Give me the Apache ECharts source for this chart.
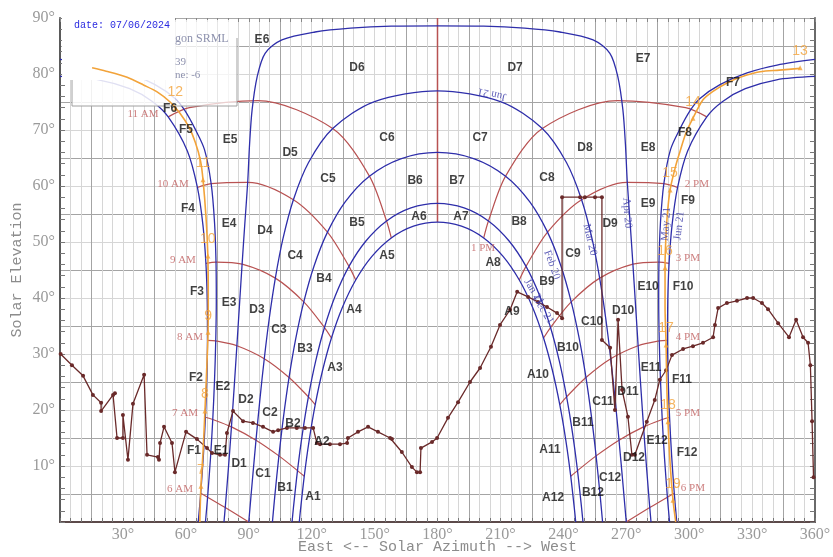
<!DOCTYPE html>
<html><head><meta charset="utf-8">
<script src="https://cdn.jsdelivr.net/npm/echarts/dist/echarts.min.js"></script>
<style>html,body{margin:0;padding:0;background:#fff}#c{width:833px;height:557px}</style>
</head><body><div id="c"></div>
<script>
// ---- sun path (date) curves [azimuth, elevation] ----
const JUN21_AM = [[65.9,0],[67.1,5.13],[68.37,11.9],[69.34,18.71],[70.0,25.57],[70.31,32.44],[70.21,39.32],[69.57,46.19],[68.16,53.01],[65.52,59.74],[60.72,66.26],[51.6,72.34],[44.03,75.1],[33.23,77.37],[18.31,78.97],[0,79.56]];
const JUN21_PM = [[360,79.56],[341.69,78.97],[326.77,77.37],[315.97,75.1],[308.4,72.34],[299.28,66.26],[294.48,59.74],[291.84,53.01],[290.43,46.19],[289.79,39.32],[289.69,32.44],[290.0,25.57],[290.66,18.71],[291.63,11.9],[292.9,5.13],[294.1,0]];
const MAY21_AM = [[69.35,0],[70.38,4.43],[71.74,11.35],[72.84,18.31],[73.68,25.31],[74.26,32.33],[74.53,39.37],[74.39,46.42],[73.69,53.45],[72.07,60.42],[68.9,66.5],[64.4,70.2],[59.5,73.5],[55,75.6],[45.3,78.1],[32.4,80.2],[18.1,81.6],[0,82.6]];
const MAY21_PM = [[360,82.6],[341.9,81.6],[327.6,80.2],[314.7,78.1],[305,75.6],[300.5,73.5],[295.6,70.2],[291.1,66.5],[287.93,60.42],[286.31,53.45],[285.61,46.42],[285.47,39.37],[285.74,32.33],[286.32,25.31],[287.16,18.31],[288.26,11.35],[289.62,4.43],[290.65,0]];
const APR20 = [[78.19,0],[78.79,2.57],[80.33,9.76],[81.75,16.98],[83.08,24.22],[84.34,31.48],[85.58,38.76],[86.83,46.05],[88.14,53.36],[89.5,60.66],[90.4,67.5],[91.6,73.6],[94,79.5],[97.8,83.7],[105.8,86.1],[121.6,87.5],[138.5,88.2],[158,88.55],[180,88.6],[202,88.55],[221.5,88.2],[238.4,87.5],[254.2,86.1],[262.2,83.7],[266,79.5],[268.4,73.6],[269.6,67.5],[270.5,60.66],[271.86,53.36],[273.17,46.05],[274.42,38.76],[275.66,31.48],[276.92,24.22],[278.25,16.98],[279.67,9.76],[281.21,2.57],[281.81,0]];
const MAR20 = [[90,0],[91.7,7.31],[93.45,14.61],[95.32,21.89],[97.4,29.16],[99.79,36.38],[102.68,43.55],[106.34,50.63],[111.29,57.55],[118.51,64.19],[130.02,70.26],[149.66,75.03],[180,77],[210.34,75.03],[229.98,70.26],[241.49,64.19],[248.71,57.55],[253.66,50.63],[257.32,43.55],[260.21,36.38],[262.6,29.16],[264.68,21.89],[266.55,14.61],[268.3,7.31],[270,0]];
const FEB20 = [[101.29,0],[102.44,4.7],[104.38,11.81],[106.6,18.85],[109.22,25.81],[112.36,32.64],[116.24,39.3],[121.14,45.72],[127.54,51.76],[136.07,57.22],[147.53,61.76],[162.45,64.86],[180,66],[197.55,64.86],[212.47,61.76],[223.93,57.22],[232.46,51.76],[238.86,45.72],[243.76,39.3],[247.64,32.64],[250.78,25.81],[253.4,18.85],[255.62,11.81],[257.56,4.7],[258.71,0]];
const JAN21 = [[110.65,0],[111.27,2.41],[113.24,9.18],[115.6,15.83],[118.44,22.35],[121.88,28.67],[126.1,34.73],[131.32,40.44],[137.79,45.65],[145.86,50.18],[155.71,53.76],[167.32,56.09],[180,56.9],[192.68,56.09],[204.29,53.76],[214.14,50.18],[222.21,45.65],[228.68,40.44],[233.9,34.73],[238.12,28.67],[241.56,22.35],[244.4,15.83],[246.76,9.18],[248.73,2.41],[249.35,0]];
const DEC21 = [[114.1,0],[114.5,1.56],[116.46,8.16],[118.83,14.63],[121.7,20.95],[125.19,27.05],[129.43,32.86],[134.63,38.3],[141,43.21],[148.73,47.43],[157.97,50.72],[168.56,52.82],[180,53.56],[191.44,52.82],[202.03,50.72],[211.27,47.43],[219,43.21],[225.37,38.3],[230.57,32.86],[234.81,27.05],[238.3,20.95],[241.17,14.63],[243.54,8.16],[245.5,1.56],[245.9,0]];

// ---- hour lines ----
const H6AM = [[67.1,5.13],[70.38,4.43],[78.79,2.57],[90,0]];
const H7AM = [[69.34,18.71],[72.84,18.31],[81.75,16.98],[93.45,14.61],[104.38,11.81],[113.24,9.18],[116.46,8.16]];
const H8AM = [[70.31,32.44],[74.26,32.33],[84.34,31.48],[97.4,29.16],[109.22,25.81],[118.44,22.35],[121.7,20.95]];
const H9AM = [[69.57,46.19],[74.39,46.42],[86.83,46.05],[102.68,43.55],[116.24,39.3],[126.1,34.73],[129.43,32.86]];
const H10AM = [[65.52,59.74],[72.07,60.42],[89.61,60.66],[111.29,57.55],[127.54,51.76],[137.79,45.65],[141,43.21]];
const H11AM = [[51.6,72.34],[61.71,73.99],[94.21,75.24],[130.02,70.26],[147.53,61.76],[155.71,53.76],[157.97,50.72]];
const NOON = [[180,53.56],[180,90]];
const H1PM = [[202.03,50.72],[204.29,53.76],[212.47,61.76],[229.98,70.26],[265.79,75.24],[298.29,73.99],[308.4,72.34]];
const H2PM = [[219,43.21],[222.21,45.65],[232.46,51.76],[248.71,57.55],[270.39,60.66],[287.93,60.42],[294.48,59.74]];
const H3PM = [[230.57,32.86],[233.9,34.73],[243.76,39.3],[257.32,43.55],[273.17,46.05],[285.61,46.42],[290.43,46.19]];
const H4PM = [[238.3,20.95],[241.56,22.35],[250.78,25.81],[262.6,29.16],[275.66,31.48],[285.74,32.33],[289.69,32.44]];
const H5PM = [[243.54,8.16],[246.76,9.18],[255.62,11.81],[266.55,14.61],[278.25,16.98],[287.16,18.31],[290.66,18.71]];
const H6PM = [[270,0],[281.21,2.57],[289.62,4.43],[292.9,5.13]];

// ---- horizon / obstruction profile ----
const HORIZON = [[0.3,30.0],[5.7,28.0],[11.0,26.1],[15.7,22.7],[19.6,21.3],[19.6,19.8],[25.3,22.7],[26.2,23.0],[27.2,15.0],[30.0,15.0],[30.0,19.1],[32.4,11.1],[34.8,21.1],[40.1,26.3],[41.5,12.0],[46.7,11.6],[47.2,11.1],[47.7,14.1],[49.6,17.0],[53.4,14.1],[54.8,8.9],[60.1,16.1],[65.3,14.8],[70.1,13.2],[72.5,12.3],[76.3,12.0],[78.7,12.0],[79.6,15.9],[82.5,19.8],[87.3,18.0],[92.0,17.7],[96.8,17.0],[101.6,16.1],[104.0,16.4],[108.2,16.8],[112.9,16.8],[116.8,16.8],[120.7,16.8],[122.5,14.1],[124.0,13.9],[128.7,13.9],[133.5,13.9],[136.9,14.1],[137.3,15.0],[142.1,16.1],[146.9,17.0],[151.6,16.1],[157.4,15.0],[158.3,14.8],[163.0,12.5],[167.8,9.8],[170.2,8.9],[171.7,8.9],[172.1,13.2],[177.4,14.3],[179.8,15.0],[185.0,18.6],[189.8,21.4],[195.5,25.0],[200.3,27.5],[205.5,31.3],[209.8,35.2],[214.6,37.9],[218.0,41.1],[223.2,40.2],[227.9,39.3],[232.2,38.4],[237.0,37.3],[239.4,36.4],[239.4,58.0],[248.0,58.0],[250.3,58.0],[255.1,58.0],[258.4,58.0],[258.4,32.5],[262.3,31.1],[264.6,20.0],[266.1,36.1],[268.0,23.6],[270.8,18.8],[272.7,12.0],[274.1,12.0],[279.8,17.9],[283.6,21.8],[286.0,25.4],[289.0,27.1],[291.8,29.8],[297.1,30.9],[301.8,31.4],[306.6,32.0],[311.4,33.0],[312.3,35.2],[313.8,38.2],[318.0,39.1],[322.8,39.5],[327.6,40.0],[330.5,40.0],[334.7,39.1],[337.6,38.0],[342.4,35.5],[347.6,33.0],[351.0,36.1],[354.3,33.0],[356.7,32.0],[357.8,28.0],[358.6,18.0],[359.3,8.0]];

// ---- sun path of 07/06/2024 ----
const DAY_AM = [[66.66,0],[67.2,6.4],[68.2,12.5],[69.1,19.8],[69.9,26.8],[70.6,33.9],[70.7,40.7],[70.5,47.5],[69.6,54.5],[68.2,61.1],[67.0,64.5],[64.5,67.8],[61.5,70.5],[57.2,73.0],[52.5,75.0],[46.3,76.8],[40,78],[32,79.4],[22,80.5],[15.3,81.1]];
const DAY_PM = [[352.9,81.0],[343,80.7],[333.8,80.4],[325,79.5],[318,78.4],[311,76.8],[306.6,75.4],[301.8,72.1],[298.5,69.5],[295.5,66],[293.3,63.2],[290.9,59.3],[289.5,54.5],[288.7,49],[288.5,45.4],[288.5,38.5],[289,31.6],[289.3,24.7],[289.9,17.9],[290.9,10.5],[292.3,3.9],[293.6,0]];
const DAY_HOURS = ['7','8','9','10','11','12','13','14','15','16','17','18','19'];
const DAY_HOUR_AZ = [67.2,69.1,70.6,70.5,68.2,55.0,352.9,301.8,290.9,288.5,289,289.9,292.3];
const DAY_HOUR_EL = [6.4,19.8,33.9,47.5,61.1,73.9,81.1,72.1,59.3,45.4,31.6,17.9,3.9];

// ---- sky region labels ----
const REGION_TEXT = ['A1','B1','C1','D1','E1','F1','A2','B2','C2','D2','E2','F2','A3','B3','C3','D3','E3','F3','A4','B4','C4','D4','E4','F4','A5','B5','C5','D5','E5','F5','A6','B6','C6','D6','E6','F6','A7','B7','C7','D7','E7','F7','A8','B8','C8','D8','E8','F8','A9','B9','C9','D9','E9','F9','A10','B10','C10','D10','E10','F10','A11','B11','C11','D11','E11','F11','A12','B12','C12','D12','E12','F12'];
const REGION_AZ = [120.6,107.3,96.8,85.4,76.8,63.9, 124.9,111.1,100.1,88.7,77.7,64.8, 131.1,116.8,104.4,93.9,80.6,65.3, 140.2,125.9,112.1,97.7,80.6,61.0, 155.9,141.6,127.8,109.7,81.1,60.1, 171.2,169.3,155.9,141.6,96.3,52.5, 191.2,189.3,200.3,217.0,278.0,320.9, 206.5,218.9,232.2,250.3,280.4,298.0, 215.5,232.2,244.6,262.3,280.4,299.4, 227.9,242.2,253.7,268.5,280.4,297.1, 233.6,249.4,258.9,270.8,281.8,296.6, 235.1,254.1,262.3,273.7,284.7,299.0];
const REGION_EL = [4.5,6.1,8.6,10.5,12.7,12.7, 14.3,17.5,19.6,21.8,24.1,25.7, 27.5,30.9,34.3,38.0,39.1,41.1, 37.9,43.4,47.5,52.1,53.2,55.9, 47.5,53.4,61.3,65.9,68.2,70.0, 54.5,60.9,68.6,81.1,86.1,73.8, 54.5,60.9,68.6,81.1,82.7,78.4, 46.3,53.6,61.4,66.8,66.8,69.6, 37.5,43.0,47.9,53.2,56.8,57.3, 26.3,31.1,35.7,37.7,42.0,42.0, 13.0,17.7,21.4,23.2,27.5,25.5, 4.3,5.2,8.0,11.4,14.6,12.3];

// ---- hour line labels ----
const HOUR_TEXT = ['6 AM','7 AM','8 AM','9 AM','10 AM','11 AM','1 PM','2 PM','3 PM','4 PM','5 PM','6 PM'];
const HOUR_AZ = [57.2,59.6,62.0,58.6,53.9,39.6,201.7,303.7,299.4,299.4,299.4,301.8];
const HOUR_EL = [5.9,19.5,33.0,46.8,60.4,72.9,48.9,60.4,47.1,33.0,19.5,6.1];

// ---- date labels ----
const DATE_TEXT = ['Jun 21','Mar 20','Apr 20','May 21','Jun 21','Feb 20','Jan 21','Dec 21'];
const DATE_AZ = [206.0,252.7,270.4,289.0,295.2,234.6,226.0,230.3];
const DATE_EL = [76.4,50.4,55.2,53.2,52.9,45.9,41.1,37.9];
const DATE_ROT = [168,-77,-86,86,83,-70,-58,-58];

const BLUE = '#2e2eaa', RED = '#b85252', ORANGE = '#f2a33a', BROWN = '#6a2a2a';
function curve(data, color, width, z, smooth) {
  return {type:'line', data, symbol:'none', smooth: smooth === undefined ? 0.3 : smooth,
    lineStyle:{color, width}, z, silent:true, animation:false, clip:true};
}
const series = [];
[JUN21_AM, JUN21_PM, MAY21_AM, MAY21_PM, APR20, MAR20, FEB20, JAN21, DEC21].forEach(d => series.push(curve(d, BLUE, 1.3, 3)));
[H6AM,H7AM,H8AM,H9AM,H10AM,H11AM,H1PM,H2PM,H3PM,H4PM,H5PM,H6PM].forEach(d => series.push(curve(d, RED, 1.2, 2)));
series.push(curve(NOON, RED, 1.5, 2, false));
series.push({type:'line', data:HORIZON, smooth:false, symbol:'circle', symbolSize:4, showSymbol:true,
  lineStyle:{color:BROWN, width:1.3}, itemStyle:{color:BROWN}, z:8, silent:true, animation:false});
series.push(curve(DAY_AM, ORANGE, 1.6, 10));
series.push(curve(DAY_PM, ORANGE, 1.6, 10));
series.push({type:'scatter', symbol:'triangle', symbolSize:5, itemStyle:{color:ORANGE}, z:11, silent:true, animation:false,
  data: DAY_HOURS.map((t,i)=>({value:[DAY_HOUR_AZ[i], DAY_HOUR_EL[i]], name:t})),
  label:{show:true, position:'top', distance:7, formatter:'{b}', color:ORANGE, fontSize:14, fontFamily:'Liberation Sans Narrow, Liberation Sans, sans-serif'}});
series.push({type:'scatter', symbol:'circle', symbolSize:1, itemStyle:{color:'rgba(0,0,0,0)'}, z:12, silent:true, animation:false,
  data: REGION_TEXT.map((t,i)=>({value:[REGION_AZ[i], REGION_EL[i]], name:t})),
  label:{show:true, position:'inside', formatter:'{b}', color:'#111', fontWeight:'bold', fontSize:12, fontFamily:'Liberation Sans, Arial, sans-serif'}});
series.push({type:'scatter', symbol:'circle', symbolSize:1, itemStyle:{color:'rgba(0,0,0,0)'}, z:12, silent:true, animation:false,
  data: HOUR_TEXT.map((t,i)=>({value:[HOUR_AZ[i], HOUR_EL[i]], name:t})),
  label:{show:true, position:'inside', formatter:'{b}', color:'#bf5c5c', fontSize:11, fontFamily:'Liberation Serif, serif'}});
series.push({type:'scatter', symbol:'circle', symbolSize:1, itemStyle:{color:'rgba(0,0,0,0)'}, z:12, silent:true, animation:false,
  data: DATE_TEXT.map((t,i)=>({value:[DATE_AZ[i], DATE_EL[i]], name:t, label:{rotate:DATE_ROT[i]}})),
  label:{show:true, position:'inside', formatter:'{b}', color:'#3838a8', fontSize:11, fontFamily:'Liberation Serif, serif'}});

const axisFont = {color:'#9a9a9a', fontSize:16, fontFamily:'Liberation Serif, serif'};
const chart = echarts.init(document.getElementById('c'), null, {renderer:'canvas'});
chart.setOption({
  animation:false,
  backgroundColor:'#fff',
  grid:{left:60, right:18, top:18, bottom:35, containLabel:false, outerBoundsMode:'none'},
  xAxis:[{
    type:'value', min:0, max:360, interval:5, position:'bottom',
    axisLine:{show:true, onZero:false, lineStyle:{color:'#5c4a4a', width:2}},
    axisTick:{show:true, inside:true, length:4, lineStyle:{color:'#777'}},
    axisLabel:Object.assign({formatter:v => (v>0 && v%30===0) ? v+'°' : '', margin:5, showMinLabel:true, showMaxLabel:true}, axisFont),
    splitLine:{show:true, showMinLine:true, showMaxLine:true, lineStyle:{color:['#d6d6d6','#d6d6d6','#d6d6d6','#a4a4a4','#d6d6d6','#d6d6d6'], width:1}},
    name:'East <-- Solar Azimuth --> West', nameLocation:'middle', nameGap:18, nameMoveOverlap:false,
    nameTextStyle:{color:'#8c8c8c', fontSize:15, fontFamily:'Liberation Mono, monospace'}
  },{
    type:'value', min:0, max:360, interval:5, position:'top',
    axisLine:{show:true, onZero:false, lineStyle:{color:'#a8a8a8', width:1}},
    axisTick:{show:true, inside:true, length:4, lineStyle:{color:'#888'}},
    axisLabel:{show:false}, splitLine:{show:false}
  }],
  yAxis:[{
    type:'value', min:0, max:90, interval:5, position:'left',
    axisLine:{show:true, onZero:false, lineStyle:{color:'#5a5a5a', width:2}},
    axisTick:{show:false},
    axisLabel:Object.assign({formatter:v => (v>0 && v%10===0) ? v+'°' : '', margin:5}, axisFont),
    splitLine:{show:true, showMinLine:true, showMaxLine:true, lineStyle:{color:['#d6d6d6','#a4a4a4'], width:1}},
    name:'Solar Elevation', nameLocation:'middle', nameGap:35, nameRotate:90, nameMoveOverlap:false,
    nameTextStyle:{color:'#8c8c8c', fontSize:15, fontFamily:'Liberation Mono, monospace'}
  },{
    type:'value', min:0, max:90, interval:2, position:'left',
    axisLine:{show:false}, axisTick:{show:true, inside:true, length:5, lineStyle:{color:'#777'}},
    axisLabel:{show:false}, splitLine:{show:false}
  },{
    type:'value', min:0, max:90, interval:2, position:'right',
    axisLine:{show:true, onZero:false, lineStyle:{color:'#6a6a6a', width:2}},
    axisTick:{show:true, inside:true, length:5, lineStyle:{color:'#777'}},
    axisLabel:{show:false}, splitLine:{show:false}
  }],
  graphic:[
    {type:'rect', silent:true, z:5, shape:{x:62, y:0, width:113, height:80}, style:{fill:'#ffffff'}},
    {type:'rect', silent:true, z:5, shape:{x:175, y:20, width:62, height:86}, style:{fill:'rgba(255,255,255,0.72)'}},
    {type:'rect', silent:true, z:5, shape:{x:72, y:80, width:103, height:26}, style:{fill:'rgba(255,255,255,0.85)'}},
    {type:'polyline', silent:true, z:6, shape:{points:[[72,80],[72,106],[237,106],[237,38]]}, style:{stroke:'#a0a0a0', lineWidth:1, fill:null}},
    {type:'text', silent:true, z:7, x:74, y:25, style:{text:'date: 07/06/2024', fill:'#2a2ae0', font:'10px "Liberation Mono", monospace', verticalAlign:'middle'}},
    {type:'text', silent:true, z:7, x:175, y:39, style:{text:'gon SRML', fill:'#8e92ae', font:'12px "Liberation Serif", serif', verticalAlign:'middle'}},
    {type:'text', silent:true, z:7, x:175, y:62, style:{text:'39', fill:'#8e92ae', font:'11px "Liberation Serif", serif', verticalAlign:'middle'}},
    {type:'text', silent:true, z:7, x:175, y:75, style:{text:'ne: -6', fill:'#8e92ae', font:'11px "Liberation Serif", serif', verticalAlign:'middle'}}
  ],
  series
});
</script></body></html>
